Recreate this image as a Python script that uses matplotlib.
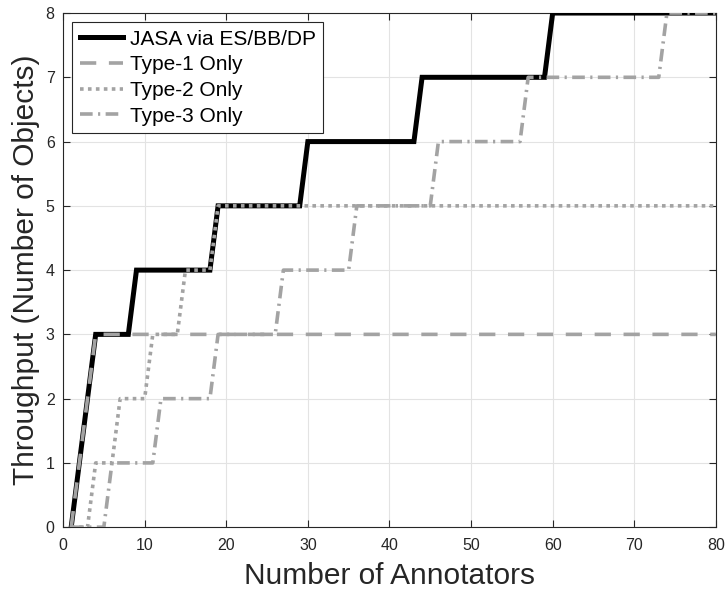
#!/usr/bin/env python3
import matplotlib
matplotlib.use('Agg')
import matplotlib.pyplot as plt

# step breakpoints (annotators, objects) for each scheme
jasa_x = [1, 4, 8, 9, 18, 19, 29, 30, 43, 44, 59, 60, 80]
jasa_y = [0, 3, 3, 4, 4, 5, 5, 6, 6, 7, 7, 8, 8]

type1_x = [1, 4, 80]
type1_y = [0, 3, 3]

type2_x = [1, 3, 4, 6, 7, 10, 11, 14, 15, 18, 19, 80]
type2_y = [0, 0, 1, 1, 2, 2, 3, 3, 4, 4, 5, 5]

type3_x = [1, 5, 6, 11, 12, 18, 19, 26, 27, 35, 36, 45, 46, 56, 57, 73, 74, 80]
type3_y = [0, 0, 1, 1, 2, 2, 3, 3, 4, 4, 5, 5, 6, 6, 7, 7, 8, 8]

labels = ['JASA via ES/BB/DP', 'Type-1 Only', 'Type-2 Only', 'Type-3 Only']

plt.rcParams['font.family'] = ['Liberation Sans', 'DejaVu Sans']

gray = '#a3a3a3'
styles = [
    {'color': 'black', 'ls': '-', 'lw': 3.6},
    {'color': gray, 'ls': (0, (4.5, 3.5)), 'lw': 2.6},
    {'color': gray, 'ls': (0, (1, 1.2)), 'lw': 2.6},
    {'color': gray, 'ls': (0, (3.5, 1.5, 0.6, 1.5)), 'lw': 2.6},
]


def main():
    fig = plt.figure(figsize=(7.27, 5.93), dpi=100)
    ax = fig.add_axes([0.0867, 0.111, 0.898, 0.867])

    series = [(jasa_x, jasa_y), (type1_x, type1_y),
              (type2_x, type2_y), (type3_x, type3_y)]
    for i, (x, y) in enumerate(series):
        ax.plot(x, y, **styles[i], label=labels[i], solid_joinstyle='miter',
                dash_capstyle='butt', zorder=3 + i)

    ax.set_xlim(0, 80)
    ax.set_ylim(0, 8)
    ax.set_xticks(range(0, 81, 10))
    ax.set_yticks(range(0, 9))
    ax.grid(True, color='#e3e3e3', lw=0.8)
    ax.set_axisbelow(True)
    ax.tick_params(direction='in', top=True, right=True, length=5,
                   color='#262626', labelcolor='#262626', labelsize=11.5)
    ax.tick_params(axis='x', pad=8)
    ax.tick_params(axis='y', pad=6)
    for sp in ax.spines.values():
        sp.set_color('#262626')
        sp.set_linewidth(0.8)

    ax.set_xlabel('Number of Annotators', fontsize=21.5, color='#262626',
                  labelpad=6)
    ax.set_ylabel('Throughput (Number of Objects)', fontsize=21.5,
                  color='#262626', labelpad=4)

    leg = ax.legend(loc='upper left', fontsize=15, frameon=True, fancybox=False,
                    edgecolor='#262626', framealpha=1, handlelength=2.1,
                    handletextpad=0.3, borderpad=0.35, labelspacing=0.32,
                    borderaxespad=0.45)
    leg.get_frame().set_linewidth(0.8)
    leg.set_zorder(10)

    fig.savefig('out.png', dpi=100)


if __name__ == '__main__':
    main()
